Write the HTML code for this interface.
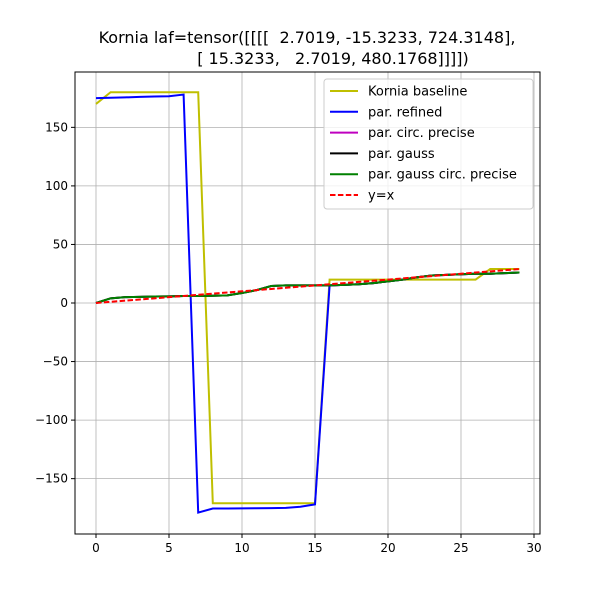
<!DOCTYPE html>
<html><head><meta charset="utf-8"><style>
body{margin:0;background:#fff;font-family:"Liberation Sans",sans-serif}
svg text{font-family:"DejaVu Sans","Liberation Sans",sans-serif}
</style></head><body>
<svg id="c" width="600" height="600"></svg>
<script>
const xs=[...Array(30).keys()];
const baseline=[170,180,180,180,180,180,180,180,-171,-171,-171,-171,-171,-171,-171,-171,20,20,20,20,20,20,20,20,20,20,20,29,29,29];
const gauss=[0,4,5,5.2,5.5,5.7,6,6,6.2,6.5,8.5,11,14.5,15,15,15,15,15.5,16,17,18.5,20,22,23.5,24,24.5,25,25,25.5,26];
const refinedHead=[175,175.3,175.6,176,176.3,176.6,178,-179,-175.5,-175.5,-175.4,-175.3,-175.2,-175,-174,-172];
const refined=refinedHead.concat(gauss.slice(16));
const yx=xs.slice();
const xTicks=[0,5,10,15,20,25,30];
const yTicks=[-150,-100,-50,0,50,100,150];
const L=75,R=540,T=72,B=534;
const X=v=>96+v*14.6;
const Y=v=>303-v*1.171;
const svg=document.getElementById('c');
const NS='http://www.w3.org/2000/svg';
function mk(t,a,p){const e=document.createElementNS(NS,t);for(const k in a)e.setAttribute(k,a[k]);(p||svg).appendChild(e);return e;}
let e;
e=mk('text',{x:307,y:43,'text-anchor':'middle','font-size':16});e.textContent='Kornia laf=tensor([[[[  2.7019, -15.3233, 724.3148],';


e.style.whiteSpace='pre';
e=mk('text',{x:333,y:64,'text-anchor':'middle','font-size':16});e.textContent='[ 15.3233,   2.7019, 480.1768]]]])';


e.style.whiteSpace='pre';
xTicks.forEach(t=>{
 const g=mk('line',{x1:X(t),x2:X(t),y1:T,y2:B,stroke:'#b0b0b0','stroke-width':0.8});
 
 
 mk('line',{x1:X(t),x2:X(t),y1:B,y2:B+4,stroke:'#000'});
 const tx=mk('text',{x:X(t),y:B+18,'text-anchor':'middle','font-size':12});tx.textContent=t;
 
 
});
yTicks.forEach(t=>{
 const g=mk('line',{x1:L,x2:R,y1:Y(t),y2:Y(t),stroke:'#b0b0b0','stroke-width':0.8});
 
 
 mk('line',{x1:L-4,x2:L,y1:Y(t),y2:Y(t),stroke:'#000'});
 const tx=mk('text',{x:L-7,y:Y(t)+4,'text-anchor':'end','font-size':12});tx.textContent=String(t).replace('-','\u2212');
 
 
});
const series=[
 {n:'Kornia baseline',d:baseline,c:'#bfbf00',dash:null,name:'series-kornia-baseline'},
 {n:'par. refined',d:refined,c:'#0000ff',dash:null,name:'series-par-refined'},
 {n:'par. circ. precise',d:gauss,c:'#bf00bf',dash:null,name:'series-par-circ-precise'},
 {n:'par. gauss',d:gauss,c:'#000000',dash:null,name:'series-par-gauss'},
 {n:'par. gauss circ. precise',d:gauss,c:'#008000',dash:null,name:'series-par-gauss-circ-precise'},
 {n:'y=x',d:yx,c:'#ff0000',dash:'5.5,2.4',name:'series-y-equals-x'}
];
series.forEach(s=>{
 const p=mk('polyline',{points:s.d.map((v,i)=>X(xs[i])+','+Y(v)).join(' '),fill:'none',stroke:s.c,'stroke-width':2});
 if(s.dash)p.setAttribute('stroke-dasharray',s.dash);
 
 
});
const fr=mk('rect',{x:L,y:T,width:R-L,height:B-T,fill:'none',stroke:'#000','stroke-width':1});


const lg=mk('g',{});


mk('rect',{x:324,y:79,width:209,height:130,fill:'#fff','fill-opacity':0.8,stroke:'#ccc',rx:3},lg);
series.forEach((s,i)=>{
 const y=91+i*20.8;
 const ln=mk('line',{x1:330,x2:358,y1:y,y2:y,stroke:s.c,'stroke-width':2},lg);
 if(s.dash)ln.setAttribute('stroke-dasharray',s.dash);
 const t=mk('text',{x:368,y:y+4.5,'font-size':13},lg);t.textContent=s.n;
 
 
});
</script>
</body></html>
